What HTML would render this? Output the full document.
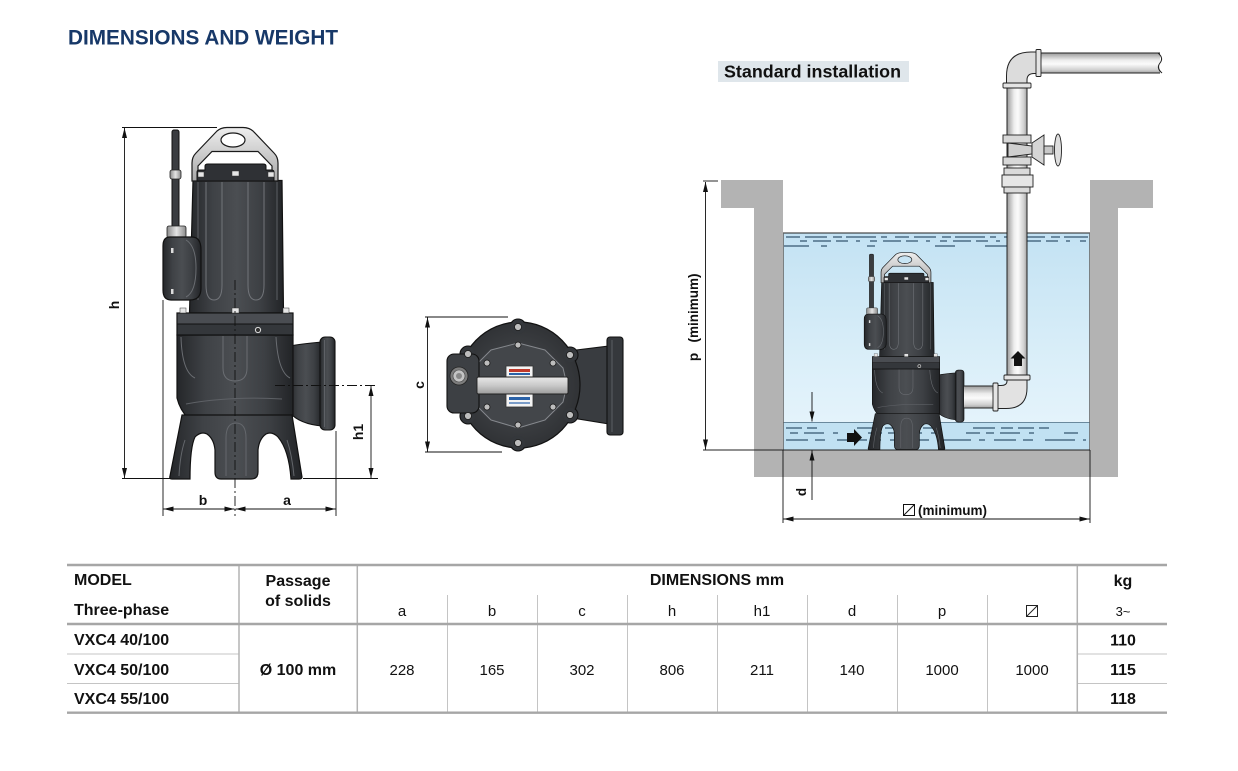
<!DOCTYPE html>
<html><head><meta charset="utf-8">
<style>
html,body{margin:0;padding:0;background:#fff;}
svg{display:block;}
text{font-family:"Liberation Sans",Arial,sans-serif;fill:#111;}
</style></head><body>
<svg width="1238" height="771" viewBox="0 0 1238 771" xmlns="http://www.w3.org/2000/svg">
<defs>
<linearGradient id="gBody" x1="0" y1="0" x2="1" y2="0">
<stop offset="0" stop-color="#25272a"/><stop offset="0.25" stop-color="#3f4246"/><stop offset="0.5" stop-color="#4b4e52"/><stop offset="0.75" stop-color="#3d4044"/><stop offset="1" stop-color="#222427"/>
</linearGradient>
<linearGradient id="gHandle" x1="0" y1="0" x2="0" y2="1">
<stop offset="0" stop-color="#eeeeee"/><stop offset="1" stop-color="#a9a9a9"/>
</linearGradient>
<linearGradient id="gMetal" x1="0" y1="0" x2="1" y2="0">
<stop offset="0" stop-color="#8a8a8a"/><stop offset="0.5" stop-color="#e4e4e4"/><stop offset="1" stop-color="#8a8a8a"/>
</linearGradient>
<radialGradient id="gTop" cx="0.5" cy="0.5" r="0.6">
<stop offset="0" stop-color="#4c4f53"/><stop offset="1" stop-color="#2b2d30"/>
</radialGradient>
<linearGradient id="gBar" x1="0" y1="0" x2="0" y2="1">
<stop offset="0" stop-color="#e8e8e8"/><stop offset="0.5" stop-color="#c9c9c9"/><stop offset="1" stop-color="#9c9c9c"/>
</linearGradient>
<linearGradient id="gPipeV" x1="0" y1="0" x2="1" y2="0">
<stop offset="0" stop-color="#9a9a9a"/><stop offset="0.35" stop-color="#ececec"/><stop offset="0.55" stop-color="#fbfbfb"/><stop offset="0.85" stop-color="#cfcfcf"/><stop offset="1" stop-color="#a0a0a0"/>
</linearGradient>
<linearGradient id="gPipeH" x1="0" y1="0" x2="0" y2="1">
<stop offset="0" stop-color="#9a9a9a"/><stop offset="0.35" stop-color="#ececec"/><stop offset="0.55" stop-color="#fbfbfb"/><stop offset="0.85" stop-color="#cfcfcf"/><stop offset="1" stop-color="#a0a0a0"/>
</linearGradient>
<linearGradient id="gWater" x1="0" y1="0" x2="0" y2="1">
<stop offset="0" stop-color="#c3e2f3"/><stop offset="0.6" stop-color="#dbeff9"/><stop offset="1" stop-color="#e8f5fc"/>
</linearGradient>
<marker id="ar" viewBox="0 0 10 5" refX="10" refY="2.5" markerWidth="10" markerHeight="5" markerUnits="userSpaceOnUse" orient="auto-start-reverse">
<path d="M0,0 L10,2.5 L0,5 Z" fill="#111"/>
</marker>

<g id="pump">
 <!-- cable -->
 <rect x="172" y="130" width="7" height="100" rx="2" fill="#3a3c40" stroke="#111" stroke-width="1"/>
 <rect x="170" y="170" width="11" height="9" rx="2" fill="url(#gMetal)" stroke="#222" stroke-width="0.8"/>
 <!-- motor body -->
 <path d="M193,180.5 H282 L283.5,313 H189.5 Z" fill="url(#gBody)" stroke="#111" stroke-width="1.2"/>
 <path d="M206,182 V285 Q206,300 214,300 Q222,300 222,285 V182" fill="none" stroke="#72757a" stroke-width="1"/>
 <path d="M248,182 V285 Q248,300 256,300 Q264,300 264,285 V182" fill="none" stroke="#72757a" stroke-width="1"/>
 <line x1="198" y1="182" x2="198" y2="300" stroke="#5c5f64" stroke-width="1"/>
 <line x1="277" y1="182" x2="277" y2="300" stroke="#5c5f64" stroke-width="1"/>
 <!-- junction box -->
 <rect x="167" y="226" width="19" height="12" rx="2" fill="url(#gMetal)" stroke="#222" stroke-width="0.8"/>
 <path d="M170,237 H192 Q201,237 201,250 V288 Q201,300 190,300 H171 Q163,300 163,290 V246 Q163,237 170,237 Z" fill="url(#gBody)" stroke="#111" stroke-width="1.2"/>
 <path d="M186,240 Q196,246 196,268 Q196,292 186,297" fill="none" stroke="#6a6d72" stroke-width="1"/>
 <rect x="171" y="248" width="2.5" height="5" fill="#ddd"/>
 <rect x="171" y="289" width="2.5" height="5" fill="#ddd"/>
 <!-- handle -->
 <path fill-rule="evenodd" d="M192,181 V163 Q192,157 196,153 L217,131 Q221,127.5 227,127.5 H243 Q249,127.5 253,131 L274,153 Q278,157 278,163 V181 Z M198,181 V166 L212,151.5 H258 L272,166 V181 Z M221,140 A12,7 0 1,0 245,140 A12,7 0 1,0 221,140 Z" fill="url(#gHandle)" stroke="#1a1a1a" stroke-width="1.2"/>
 <!-- cap -->
 <path d="M197,181 V172 Q197,170 200,170 H205 V166 Q205,164 208,164 H263 Q266,164 266,166 V170 H271 Q274,170 274,172 V181 Z" fill="#2f3135" stroke="#111" stroke-width="1"/>
 <rect x="198" y="172" width="6" height="5" fill="#e6e6e6" stroke="#333" stroke-width="0.5"/>
 <rect x="232" y="171" width="7" height="5" fill="#e6e6e6" stroke="#333" stroke-width="0.5"/>
 <rect x="268" y="172" width="6" height="5" fill="#e6e6e6" stroke="#333" stroke-width="0.5"/>
 <!-- outlet neck -->
 <path d="M290,346 Q300,344 322,342 V426 Q300,424 290,413 Z" fill="url(#gBody)" stroke="#111" stroke-width="1.1"/>
 <!-- volute -->
 <path d="M177,335 H293 V415 Q293,418 289,418 H188 Q180,410 177,398 Z" fill="url(#gBody)" stroke="#111" stroke-width="1.2"/>
 <path d="M181,337 Q182,372 195,378" fill="none" stroke="#6a6d72" stroke-width="1"/>
 <path d="M223,336 V368 Q223,381 235,381 Q247,381 247,368 V336" fill="none" stroke="#6a6d72" stroke-width="1"/>
 <path d="M276,337 Q278,372 290,378" fill="none" stroke="#6a6d72" stroke-width="1"/>
 <path d="M186,404 Q230,396 282,399" fill="none" stroke="#5e6166" stroke-width="1"/>
 <!-- outlet flange -->
 <rect x="320" y="337" width="15" height="93" rx="5" fill="url(#gBody)" stroke="#111" stroke-width="1.1"/>
 <line x1="324.5" y1="340" x2="324.5" y2="427" stroke="#66696e" stroke-width="0.8"/>
 <!-- flange band -->
 <rect x="177" y="313" width="116" height="22" fill="#34373b" stroke="#111" stroke-width="1.2"/>
 <rect x="177.6" y="313.6" width="114.8" height="10" fill="#4a4d52"/>
 <line x1="177" y1="324" x2="293" y2="324" stroke="#111" stroke-width="1"/>
 <rect x="180" y="308" width="6" height="5" fill="#e6e6e6" stroke="#333" stroke-width="0.5"/>
 <rect x="232" y="308" width="7" height="5" fill="#e6e6e6" stroke="#333" stroke-width="0.5"/>
 <rect x="283" y="308" width="6" height="5" fill="#e6e6e6" stroke="#333" stroke-width="0.5"/>
 <circle cx="258" cy="330" r="2.6" fill="#333" stroke="#ddd" stroke-width="1"/>
 <!-- base / feet -->
 <path d="M182,415 H292 L302,477 Q302,479 299,479 H291 Q289,450 278,437 Q272,431 266,434 Q259,439 258,450 V472 Q258,479 251,479 H221 Q215,479 215,472 V450 Q214,439 207,434 Q201,431 195,437 Q190,447 190,479 H172 Q169,479 170,476 Z" fill="url(#gBody)" stroke="#111" stroke-width="1.2"/>
 <path d="M226,476 V438 Q226,423 236,423 Q246,423 246,438 V476" fill="none" stroke="#64676c" stroke-width="1"/>
 <path d="M185,440 Q180,455 179,476" fill="none" stroke="#64676c" stroke-width="1"/>
 <path d="M287,440 Q292,455 294,476" fill="none" stroke="#64676c" stroke-width="1"/>
</g>
</defs>

<rect width="1238" height="771" fill="#fff"/>

<!-- Title -->
<text x="68" y="44.3" font-size="21" font-weight="bold" style="fill:#173868" textLength="270" lengthAdjust="spacingAndGlyphs">DIMENSIONS AND WEIGHT</text>

<!-- ===== Front view ===== -->
<use href="#pump"/>
<g stroke="#111" stroke-width="0.9" fill="none">
 <line x1="122" y1="127.5" x2="217" y2="127.5"/>
 <line x1="122" y1="478.5" x2="170" y2="478.5"/>
 <line x1="124.5" y1="128" x2="124.5" y2="478" marker-start="url(#ar)" marker-end="url(#ar)"/>
 <line x1="163" y1="300" x2="163" y2="516"/>
 <line x1="336" y1="431" x2="336" y2="516"/>
 <line x1="235" y1="280" x2="235" y2="516" stroke-dasharray="10,3,2,3"/>
 <line x1="163.5" y1="509" x2="234.5" y2="509" marker-start="url(#ar)" marker-end="url(#ar)"/>
 <line x1="235.5" y1="509" x2="335.5" y2="509" marker-start="url(#ar)" marker-end="url(#ar)"/>
 <line x1="275" y1="385.5" x2="378" y2="385.5" stroke-dasharray="10,3,2,3"/>
 <line x1="303" y1="478.5" x2="378" y2="478.5"/>
 <line x1="371" y1="386" x2="371" y2="478" marker-start="url(#ar)" marker-end="url(#ar)"/>
</g>
<text transform="translate(119,305) rotate(-90)" font-size="14" font-weight="bold" text-anchor="middle">h</text>
<text transform="translate(363,432) rotate(-90)" font-size="14" font-weight="bold" text-anchor="middle">h1</text>
<text x="203" y="505" font-size="14" font-weight="bold" text-anchor="middle">b</text>
<text x="287" y="505" font-size="14" font-weight="bold" text-anchor="middle">a</text>

<!-- ===== Top view ===== -->
<g>
 <path d="M560,352 L609,346 V424 L560,416 Z" fill="#393c40" stroke="#111" stroke-width="1.1"/>
 <rect x="607" y="337" width="16" height="98" rx="3" fill="#35383c" stroke="#111" stroke-width="1.1"/>
 <line x1="612" y1="340" x2="612" y2="432" stroke="#66696e" stroke-width="0.8"/>
 <g fill="#34373b" stroke="#111" stroke-width="1.1">
  <circle cx="518" cy="327" r="8"/><circle cx="518" cy="443" r="8"/>
  <circle cx="468" cy="354" r="8"/><circle cx="468" cy="416" r="8"/>
  <circle cx="570" cy="355" r="8"/><circle cx="570" cy="415" r="8"/>
 </g>
 <ellipse cx="519" cy="385" rx="61" ry="63" fill="url(#gTop)" stroke="#111" stroke-width="1.2"/>
 <g fill="#34373b">
  <circle cx="518" cy="327" r="7.2"/><circle cx="518" cy="443" r="7.2"/>
  <circle cx="468" cy="354" r="7.2"/><circle cx="468" cy="416" r="7.2"/>
  <circle cx="570" cy="355" r="7.2"/><circle cx="570" cy="415" r="7.2"/>
 </g>
 <path d="M518,343 L545,350 L563,368 L567,385 L563,402 L545,420 L518,428 L491,420 L473,402 L469,385 L473,368 L491,350 Z" fill="#43464a" stroke="#85888d" stroke-width="1" stroke-linejoin="round"/>
 <rect x="447" y="354" width="32" height="59" rx="7" fill="#3d4044" stroke="#111" stroke-width="1.1"/>
 <circle cx="459" cy="376" r="9" fill="#7d7d7d" stroke="#222" stroke-width="0.8"/>
 <circle cx="459" cy="376" r="6" fill="#c4c4c4" stroke="#444" stroke-width="0.6"/>
 <circle cx="459" cy="376" r="3" fill="#888"/>
 <g fill="#bdbdbd" stroke="#1a1a1a" stroke-width="0.8">
  <circle cx="518" cy="327" r="3.5"/><circle cx="518" cy="443" r="3.5"/>
  <circle cx="468" cy="354" r="3.5"/><circle cx="468" cy="416" r="3.5"/>
  <circle cx="570" cy="355" r="3.5"/><circle cx="570" cy="415" r="3.5"/>
  <circle cx="518" cy="345" r="3"/><circle cx="487" cy="363" r="3"/>
  <circle cx="553" cy="363" r="3"/><circle cx="487" cy="407" r="3"/>
  <circle cx="553" cy="407" r="3"/><circle cx="518" cy="425" r="3"/>
 </g>
 <rect x="506" y="366" width="27" height="41" fill="#f4f4f4" stroke="#333" stroke-width="0.8"/>
 <rect x="509" y="369" width="21" height="3" fill="#c0392b"/>
 <rect x="509" y="373" width="21" height="2" fill="#2a62a8"/>
 <rect x="509" y="397" width="21" height="3" fill="#2a62a8"/>
 <rect x="509" y="402" width="21" height="2" fill="#7a9cc8"/>
 <rect x="477" y="377" width="91" height="17" rx="1.5" fill="url(#gBar)" stroke="#222" stroke-width="0.9"/>
</g>
<g stroke="#111" stroke-width="0.9" fill="none">
 <line x1="425" y1="317" x2="508" y2="317"/>
 <line x1="425" y1="452" x2="502" y2="452"/>
 <line x1="427.5" y1="317.5" x2="427.5" y2="451.5" marker-start="url(#ar)" marker-end="url(#ar)"/>
</g>
<text transform="translate(424,385) rotate(-90)" font-size="14" font-weight="bold" text-anchor="middle">c</text>

<!-- ===== Standard installation ===== -->
<rect x="718" y="61" width="191" height="21" fill="#dfe6eb"/>
<text x="724" y="77.5" font-size="17.5" font-weight="bold" textLength="177" lengthAdjust="spacingAndGlyphs">Standard installation</text>

<!-- walls -->
<path d="M721,180 H783 V450 H1090 V180 H1153 V208 H1118 V477 H754 V208 H721 Z" fill="#b3b3b3"/>
<!-- water -->
<rect x="783" y="233" width="307" height="217" fill="url(#gWater)"/>
<rect x="783" y="422" width="307" height="28" fill="#c1e1f2"/>
<line x1="783" y1="422.5" x2="1090" y2="422.5" stroke="#4d6b80" stroke-width="0.8"/>
<line x1="783" y1="233" x2="1090" y2="233" stroke="#222" stroke-width="1.1"/>
<line x1="783.5" y1="233" x2="783.5" y2="450" stroke="#666" stroke-width="0.8"/>
<line x1="1089.5" y1="233" x2="1089.5" y2="450" stroke="#666" stroke-width="0.8"/>
<g stroke="#35566f" stroke-width="1.2" fill="none">
 <line x1="786" y1="237" x2="1088" y2="237" stroke-dasharray="14,5,22,6,9,4,30,5,6,8"/>
 <line x1="800" y1="241" x2="1086" y2="241" stroke-dasharray="7,6,18,5,12,8,4,10"/>
 <line x1="784" y1="246" x2="1010" y2="246" stroke-dasharray="25,12,6,40,8,60,20,30"/>
 <line x1="786" y1="428" x2="1088" y2="428" stroke-dasharray="16,5,10,40,22,6,12,5"/>
 <line x1="790" y1="433" x2="1080" y2="433" stroke-dasharray="8,6,20,9,5,30,14,6"/>
 <line x1="786" y1="440" x2="1086" y2="440" stroke-dasharray="22,7,10,12,30,8,6,9"/>
</g>
<line x1="703" y1="450" x2="1090" y2="450" stroke="#222" stroke-width="1"/>

<!-- small pump -->
<use href="#pump" transform="translate(906,449) scale(0.58,0.56) translate(-235,-478)"/>

<!-- pipes -->
<rect x="1007" y="86" width="20" height="292" fill="url(#gPipeV)"/>
<line x1="1007" y1="86" x2="1007" y2="378" stroke="#222" stroke-width="1"/>
<line x1="1027" y1="86" x2="1027" y2="378" stroke="#222" stroke-width="1"/>
<path d="M1006.5,86 V76 Q1006.5,52 1031,52 H1038 V73.5 H1034 Q1027,73.5 1027,80 V86 Z" fill="#dcdcdc" stroke="#222" stroke-width="1"/>
<rect x="1038" y="53" width="122" height="20" fill="url(#gPipeH)"/>
<line x1="1038" y1="53" x2="1160" y2="53" stroke="#222" stroke-width="1"/>
<line x1="1038" y1="73" x2="1160" y2="73" stroke="#222" stroke-width="1"/>
<path d="M1158,53 Q1164,58 1160,63 Q1156,68 1162,73" fill="none" stroke="#222" stroke-width="1"/>
<rect x="1036" y="49.5" width="5" height="27" rx="1" fill="#e4e4e4" stroke="#222" stroke-width="0.9"/>
<rect x="1003" y="83" width="28" height="5" rx="1" fill="#e4e4e4" stroke="#222" stroke-width="0.9"/>
<!-- valve -->
<rect x="1003" y="135" width="28" height="8" fill="#d8d8d8" stroke="#222" stroke-width="0.9"/>
<rect x="1003" y="157" width="28" height="8" fill="#d8d8d8" stroke="#222" stroke-width="0.9"/>
<path d="M1008,143 L1032,146 L1032,154 L1008,157 Z" fill="#cfcfcf" stroke="#222" stroke-width="0.9"/>
<path d="M1032,143 L1044,135 V165 L1032,157 Z" fill="#d5d5d5" stroke="#222" stroke-width="0.9"/>
<rect x="1044" y="146" width="9" height="8" fill="#c8c8c8" stroke="#222" stroke-width="0.9"/>
<ellipse cx="1058" cy="150" rx="3.5" ry="16" fill="#dedede" stroke="#222" stroke-width="0.9"/>
<!-- union -->
<rect x="1004" y="168" width="26" height="7" fill="#dadada" stroke="#222" stroke-width="0.9"/>
<rect x="1002" y="175" width="31" height="12" fill="#e6e6e6" stroke="#222" stroke-width="0.9"/>
<rect x="1004" y="187" width="26" height="6" fill="#dadada" stroke="#222" stroke-width="0.9"/>
<!-- lower elbow -->
<path d="M1007,379 H1027 V388 Q1027,408.5 1006,408.5 H996 V385.5 H1001 Q1007,385.5 1007,381 Z" fill="#e2e2e2" stroke="#222" stroke-width="1"/>
<rect x="964" y="386" width="31" height="22" fill="url(#gPipeH)"/>
<line x1="964" y1="386" x2="995" y2="386" stroke="#222" stroke-width="1"/>
<line x1="964" y1="408" x2="995" y2="408" stroke="#222" stroke-width="1"/>
<rect x="1004" y="375" width="26" height="5" rx="1" fill="#e4e4e4" stroke="#222" stroke-width="0.9"/>
<rect x="993" y="383" width="5" height="28" rx="1" fill="#e4e4e4" stroke="#222" stroke-width="0.9"/>
<!-- flow arrows -->
<polygon points="1018,351 1025.5,358.5 1022,358.5 1022,366 1014,366 1014,358.5 1010.5,358.5" fill="#111"/>
<polygon points="847,433 854,433 854,429 862,437.5 854,446 854,442 847,442" fill="#111"/>

<!-- installation dims -->
<g stroke="#111" stroke-width="0.9" fill="none">
 <line x1="703" y1="181" x2="718" y2="181"/>
 <line x1="705.5" y1="182" x2="705.5" y2="449.5" marker-start="url(#ar)" marker-end="url(#ar)"/>
 <line x1="812" y1="392" x2="812" y2="421.5" marker-end="url(#ar)"/>
 <line x1="812" y1="500" x2="812" y2="450.5" marker-end="url(#ar)"/>
 <line x1="783" y1="450" x2="783" y2="523"/>
 <line x1="1090" y1="450" x2="1090" y2="523"/>
 <line x1="783.5" y1="519" x2="1089.5" y2="519" marker-start="url(#ar)" marker-end="url(#ar)"/>
</g>
<text transform="translate(698,357) rotate(-90)" font-size="13.5" font-weight="bold" text-anchor="middle">p</text>
<text transform="translate(698,308) rotate(-90)" font-size="13.5" font-weight="bold" text-anchor="middle">(minimum)</text>
<text transform="translate(806,492) rotate(-90)" font-size="13.5" font-weight="bold" text-anchor="middle">d</text>
<rect x="903.5" y="504.5" width="11" height="11" fill="none" stroke="#111" stroke-width="1"/>
<line x1="903.5" y1="515.5" x2="914.5" y2="504.5" stroke="#111" stroke-width="1"/>
<text x="918" y="515" font-size="13.5" font-weight="bold">(minimum)</text>

<!-- ===== Table ===== -->
<g stroke="#c4c4c4" stroke-width="1">
 <line x1="447.5" y1="595" x2="447.5" y2="712"/>
 <line x1="537.5" y1="595" x2="537.5" y2="712"/>
 <line x1="627.5" y1="595" x2="627.5" y2="712"/>
 <line x1="717.5" y1="595" x2="717.5" y2="712"/>
 <line x1="807.5" y1="595" x2="807.5" y2="712"/>
 <line x1="897.5" y1="595" x2="897.5" y2="712"/>
 <line x1="987.5" y1="595" x2="987.5" y2="712"/>
 <line x1="67" y1="654" x2="239" y2="654"/>
 <line x1="67" y1="683.5" x2="239" y2="683.5"/>
 <line x1="1077" y1="654" x2="1167" y2="654"/>
 <line x1="1077" y1="683.5" x2="1167" y2="683.5"/>
</g>
<g stroke="#b3b3b3" stroke-width="1.5">
 <line x1="239" y1="565" x2="239" y2="713"/>
 <line x1="357.3" y1="565" x2="357.3" y2="713"/>
 <line x1="1077.3" y1="565" x2="1077.3" y2="713"/>
</g>
<g stroke="#a6a6a6" stroke-width="2.4">
 <line x1="67" y1="565" x2="1167" y2="565"/>
 <line x1="67" y1="624" x2="1167" y2="624"/>
 <line x1="67" y1="712.7" x2="1167" y2="712.7"/>
</g>

<g font-size="16" font-weight="bold">
 <text x="74" y="585">MODEL</text>
 <text x="74" y="615">Three-phase</text>
 <text x="74" y="645">VXC4 40/100</text>
 <text x="74" y="675">VXC4 50/100</text>
 <text x="74" y="704">VXC4 55/100</text>
 <text x="298" y="586" text-anchor="middle">Passage</text>
 <text x="298" y="606" text-anchor="middle">of solids</text>
 <text x="298" y="675" text-anchor="middle">Ø 100 mm</text>
 <text x="717" y="585" text-anchor="middle">DIMENSIONS mm</text>
 <text x="1123" y="586" text-anchor="middle">kg</text>
 <text x="1123" y="645.5" text-anchor="middle">110</text>
 <text x="1123" y="675" text-anchor="middle">115</text>
 <text x="1123" y="704" text-anchor="middle">118</text>
</g>
<g font-size="15" text-anchor="middle">
 <text x="402" y="616">a</text>
 <text x="492" y="616">b</text>
 <text x="582" y="616">c</text>
 <text x="672" y="616">h</text>
 <text x="762" y="616">h1</text>
 <text x="852" y="616">d</text>
 <text x="942" y="616">p</text>
 <text x="402" y="675">228</text>
 <text x="492" y="675">165</text>
 <text x="582" y="675">302</text>
 <text x="672" y="675">806</text>
 <text x="762" y="675">211</text>
 <text x="852" y="675">140</text>
 <text x="942" y="675">1000</text>
 <text x="1032" y="675">1000</text>
 <text x="1123" y="616" font-size="13">3~</text>
</g>
<rect x="1026.5" y="605.5" width="11" height="11" fill="none" stroke="#222" stroke-width="1"/>
<line x1="1026.5" y1="616.5" x2="1037.5" y2="605.5" stroke="#222" stroke-width="1"/>
</svg>
</body></html>
